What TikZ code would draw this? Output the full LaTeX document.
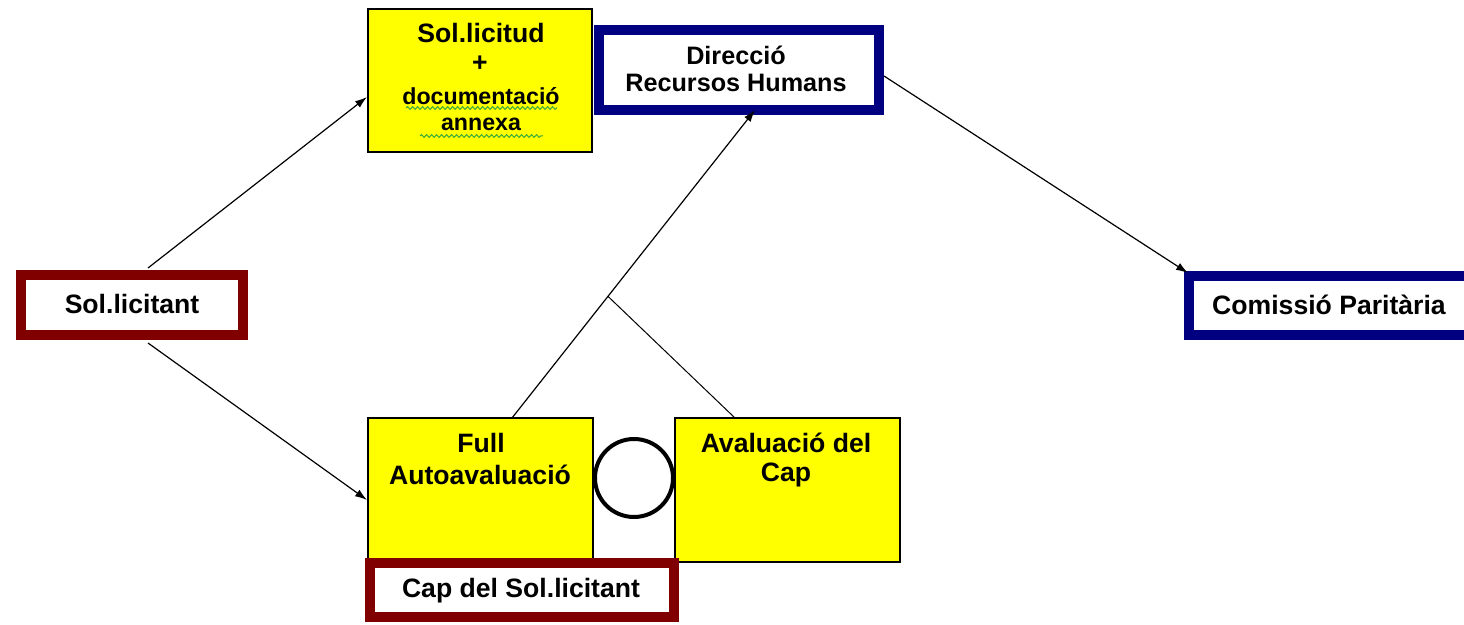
\documentclass[tikz,border=0pt]{standalone}
\usepackage{fontspec}
\setmainfont{Liberation Sans}
\usetikzlibrary{arrows.meta,decorations.pathmorphing,calc}
\definecolor{dred}{RGB}{128,0,0}
\definecolor{dblue}{RGB}{0,0,128}
\definecolor{fyel}{RGB}{255,255,0}
\definecolor{sqg}{RGB}{60,170,60}
\tikzset{
  redbox/.style={draw=dred,line width=5pt,fill=white,inner sep=0pt},
  bluebox/.style={draw=dblue,line width=5pt,fill=white,inner sep=0pt},
  yelbox/.style={draw=black,line width=0.6pt,fill=fyel,inner sep=0pt},
  txt/.style={font=\bfseries\fontsize{13.3}{15}\selectfont,inner sep=0pt,align=center},
  smalltxt/.style={txt,font=\bfseries\fontsize{11.6}{13}\selectfont},
  midtxt/.style={txt,font=\bfseries\fontsize{12.6}{14}\selectfont},
  conn/.style={line width=0.6pt,-{Latex[length=6pt,width=4pt]}},
  plain/.style={line width=0.5pt},
  squig/.style={draw=sqg,line width=0.5pt,decorate,decoration={snake,amplitude=0.7pt,segment length=2.5pt}}
}
\begin{document}
\begin{tikzpicture}[x=0.5pt,y=-0.5pt]
\useasboundingbox (0,0) rectangle (1464,625);
% boxes
\node[yelbox,minimum width=112pt,minimum height=71.5pt] (req) at (480,80.5) {};
\node[bluebox,minimum width=140pt,minimum height=40pt] (drh) at (739,70) {};
\node[redbox,minimum width=111pt,minimum height=30pt] (sol) at (132,305.5) {};
\node[bluebox,minimum width=141pt,minimum height=29.5pt] (cp) at (1329.5,306) {};
\node[yelbox,minimum width=112.5pt,minimum height=71pt] (full) at (480.5,489) {};
\node[yelbox,minimum width=112.5pt,minimum height=72pt] (aval) at (787.5,490) {};
\node[draw=black,line width=2pt,circle,minimum size=39pt,inner sep=0pt] (circ) at (634,478) {};
\node[redbox,minimum width=152pt,minimum height=27pt] (cap) at (521.5,590.5) {};
% texts
\node[txt] (t1) at (481,33) {Sol.licitud};
\node[txt] (t2) at (480,64) {+};
\node[smalltxt] (t3) at (481,96) {documentació};
\node[smalltxt] (t4) at (481,124) {annexa};
\draw[squig] (406,108) -- (557,108);
\draw[squig] (420,136) -- (543,136);
\node[midtxt] (t5) at (736,55) {Direcció};
\node[midtxt] (t6) at (736,83) {Recursos Humans};
\node[txt] (t7) at (132,304) {Sol.licitant};
\node[txt] (t8) at (1329,305) {Comissió Paritària};
\node[txt] (t9) at (481,443) {Full};
\node[txt] (t10) at (480,475) {Autoavaluació};
\node[txt] (t11) at (786,443) {Avaluació del};
\node[txt] (t12) at (786,475) {Cap};
\node[txt] (t13) at (521,591) {Cap del Sol.licitant};
% connectors
\coordinate (solT) at (148,268);
\coordinate (solB) at (148,343);
\coordinate (reqL) at (367,97);
\coordinate (fullL) at (367,500);
\coordinate (fullT) at (512,418);
\coordinate (drhB) at (755,110);
\coordinate (avalT) at (735,418);
\coordinate (drhR) at (884,76);
\coordinate (cpTL) at (1188,273);
\draw[conn] (solT) -- (reqL);
\draw[conn] (solB) -- (fullL);
\draw[conn] (fullT) -- (drhB);
\coordinate (mid) at ($(fullT)!0.395!(drhB)$);
\draw[plain] (avalT) -- (mid);
\draw[conn] (drhR) -- (cpTL);
\end{tikzpicture}
\end{document}
